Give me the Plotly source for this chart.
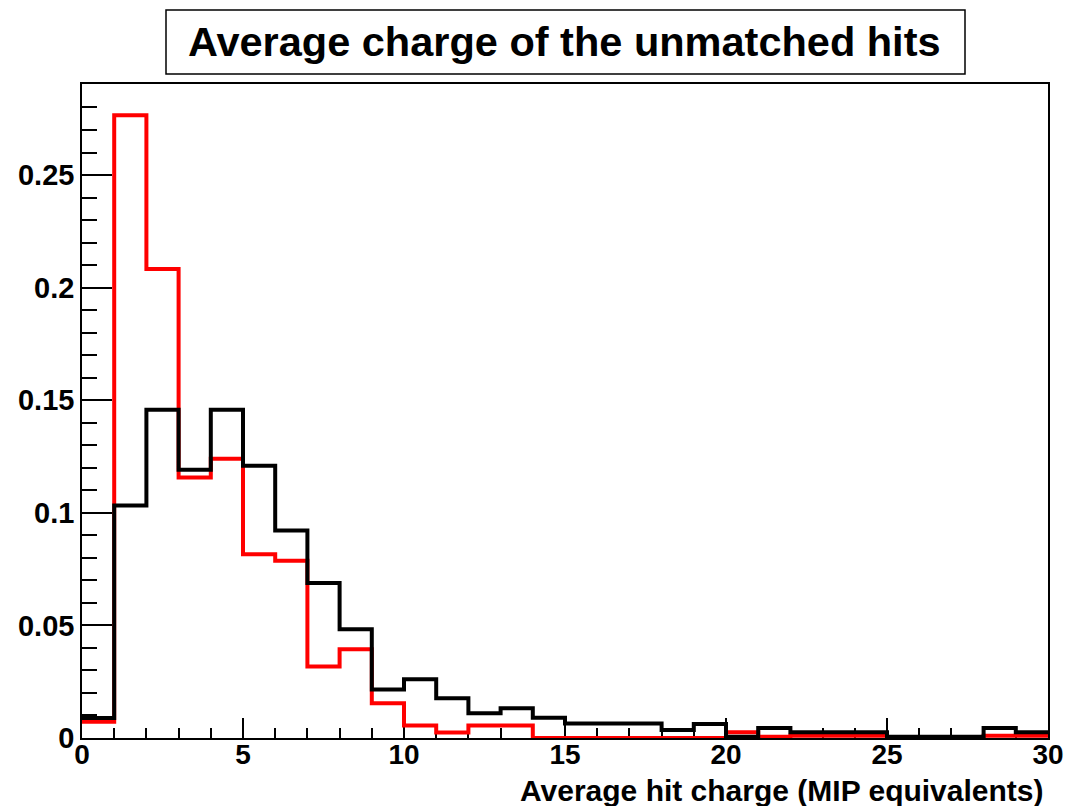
import plotly.graph_objects as go

# Histogram binning: 30 bins of width 1 MIP between 0 and 30
bin_edges = list(range(0, 31))

# Normalised bin contents
red_counts = [0.0072, 0.2766, 0.2083, 0.1157, 0.1240, 0.0816, 0.0787, 0.0317,
              0.0394, 0.0154, 0.0055, 0.0024, 0.0055, 0.0055, 0.0, 0.0,
              0.0, 0.0, 0.0, 0.0, 0.0025, 0.0005, 0.0010, 0.0010,
              0.0010, 0.0, 0.0, 0.0, 0.0010, 0.0010]
black_counts = [0.0089, 0.1032, 0.1458, 0.1191, 0.1458, 0.1209, 0.0921, 0.0688,
                0.0483, 0.0215, 0.0261, 0.0176, 0.0110, 0.0132, 0.0090, 0.0064,
                0.0064, 0.0064, 0.0036, 0.0062, 0.0005, 0.0044, 0.0025, 0.0025,
                0.0025, 0.0005, 0.0005, 0.0005, 0.0044, 0.0025]

title_text = "Average charge of the unmatched hits"
x_title = "Average hit charge (MIP equivalents)"

FONT = "Liberation Sans, Arial, Helvetica, sans-serif"

W, H = 1066, 806
L, R, T, B = 82, 18, 84, 68


def step_trace(counts, color):
    # Close the last bin at the upper edge so the outline spans the full range
    return go.Scatter(
        x=bin_edges,
        y=counts + [counts[-1]],
        mode="lines",
        line=dict(shape="hv", color=color, width=4),
        hoverinfo="skip",
        showlegend=False,
    )


fig = go.Figure()
fig.add_trace(step_trace(red_counts, "#ff0000"))
fig.add_trace(step_trace(black_counts, "#000000"))

y_max = max(red_counts + black_counts) * 1.05

fig.update_layout(
    width=W,
    height=H,
    margin=dict(l=L, r=R, t=T, b=B, pad=0, autoexpand=False),
    paper_bgcolor="white",
    plot_bgcolor="white",
    font=dict(family=FONT, color="black"),
    showlegend=False,
)

fig.update_xaxes(
    range=[0, 30],
    tick0=0,
    dtick=5,
    ticks="inside",
    ticklen=20,
    tickwidth=1.5,
    tickcolor="black",
    minor=dict(dtick=1, ticks="inside", ticklen=10, tickwidth=1.5, tickcolor="black"),
    showline=True,
    linecolor="black",
    linewidth=1.5,
    mirror=True,
    showgrid=False,
    zeroline=False,
    automargin=False,
    ticklabelstandoff=-9,
    tickfont=dict(family=FONT, size=28, color="black", weight="bold"),
    layer="below traces",
)

fig.update_yaxes(
    range=[0, y_max],
    tick0=0,
    dtick=0.05,
    ticks="inside",
    ticklen=30,
    tickwidth=1.5,
    tickcolor="black",
    minor=dict(dtick=0.01, ticks="inside", ticklen=15, tickwidth=1.5, tickcolor="black"),
    showline=True,
    linecolor="black",
    linewidth=1.5,
    mirror=True,
    showgrid=False,
    zeroline=False,
    automargin=False,
    tickfont=dict(family=FONT, size=29, color="black", weight="bold"),
    layer="below traces",
)

# Title box
pw = W - L - R
ph = H - T - B


def px_x(x):
    return (x - L) / pw


def px_y(y):
    return (H - B - y) / ph


fig.add_shape(
    type="rect",
    xref="paper", yref="paper",
    x0=px_x(166), x1=px_x(965),
    y0=px_y(74), y1=px_y(10),
    line=dict(color="black", width=1.5),
    fillcolor="white",
    layer="above",
)
fig.add_annotation(
    text=f"<b>{title_text}</b>",
    xref="paper", yref="paper",
    x=px_x(564), y=px_y(42),
    xanchor="center", yanchor="middle",
    showarrow=False,
    font=dict(family=FONT, size=41.5, color="black"),
)

# X axis title, right-aligned under the frame
fig.add_annotation(
    text=f"<b>{x_title}</b>",
    xref="paper", yref="paper",
    x=px_x(1046), y=px_y(790),
    xanchor="right", yanchor="middle",
    showarrow=False,
    font=dict(family=FONT, size=30, color="black"),
)

fig.write_html("out.html")
